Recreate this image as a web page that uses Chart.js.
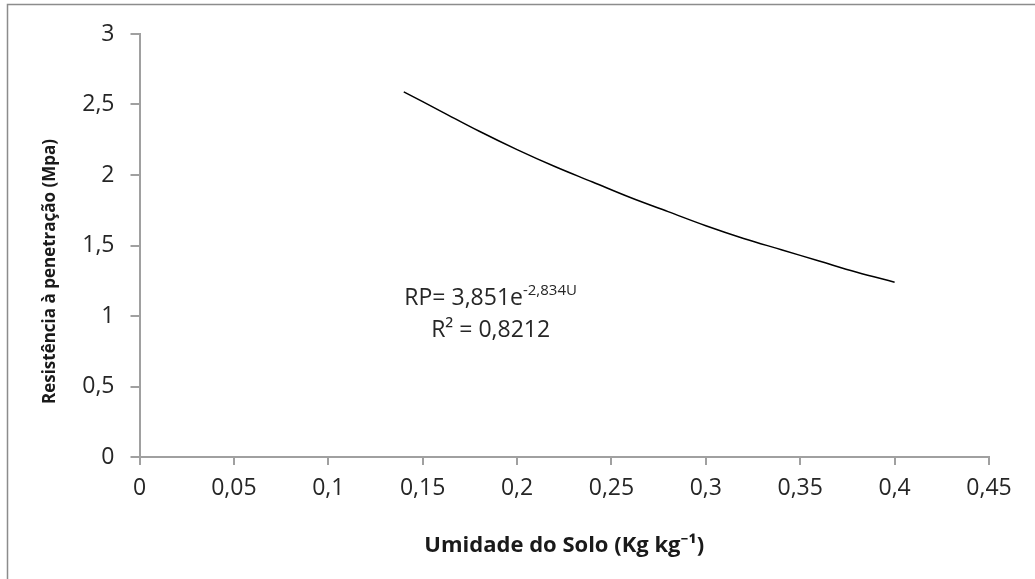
<!DOCTYPE html>
<html>
<head>
<meta charset="utf-8">
<script src="https://cdn.jsdelivr.net/npm/chart.js@4.4.1/dist/chart.umd.min.js"></script>
<style>
html, body { margin: 0; padding: 0; background: #fff; }
#wrap { width: 1035px; height: 579px; }
</style>
</head>
<body>
<div id="wrap"><canvas id="rpChart" width="1035" height="579"></canvas></div>
<script>
// valores
const umidade = [0.14, 0.16, 0.18, 0.20, 0.22, 0.24, 0.26, 0.28, 0.30, 0.32, 0.34, 0.36, 0.38, 0.40];
const resistencia = [2.59, 2.45, 2.31, 2.18, 2.06, 1.95, 1.84, 1.74, 1.64, 1.55, 1.47, 1.39, 1.31, 1.24];
const xTickLabels = ['0', '0,05', '0,1', '0,15', '0,2', '0,25', '0,3', '0,35', '0,4', '0,45'];
const yTickLabels = ['0', '0,5', '1', '1,5', '2', '2,5', '3'];

// texto da equação (ancorado em coordenadas do gráfico)
const eqMain = 'RP= 3,851e';
const eqExp = '-2,834U';
const r2Text = 'R² = 0,8212';
const eqAnchor = [0.186, 1.08];
const yTitle = 'Resistência à penetração (Mpa)';
const xTitle = 'Umidade do Solo (Kg kg⁻¹)';

const FONT = "'Open Sans', 'Noto Sans', sans-serif";
const AXIS_GRAY = '#a0a0a0';

// fundo branco + moldura externa
const framePlugin = {
    id: 'frame',
    beforeDraw(chart) {
        const ctx = chart.ctx;
        ctx.save();
        ctx.fillStyle = '#fff';
        ctx.fillRect(0, 0, chart.width, chart.height);
        ctx.strokeStyle = '#8c8c8c';
        ctx.lineWidth = 1.5;
        ctx.beginPath();
        ctx.moveTo(7.5, chart.height);
        ctx.lineTo(7.5, 4.5);
        ctx.lineTo(chart.width, 4.5);
        ctx.stroke();
        ctx.restore();
    }
};

// título do eixo Y (desenhado à mão: no original fica um pouco abaixo do centro)
const yTitlePlugin = {
    id: 'yTitle',
    afterDraw(chart) {
        const ctx = chart.ctx;
        const area = chart.chartArea;
        ctx.save();
        ctx.translate(50, (area.top + area.bottom) / 2 + 26);
        ctx.rotate(-Math.PI / 2);
        ctx.font = 'bold 17px ' + FONT;
        ctx.fillStyle = '#1a1a1a';
        ctx.textAlign = 'center';
        ctx.textBaseline = 'middle';
        ctx.fillText(yTitle, 0, 0);
        ctx.restore();
    }
};

const equationPlugin = {
    id: 'equation',
    afterDatasetsDraw(chart) {
        const ctx = chart.ctx;
        const px = chart.scales.x.getPixelForValue(eqAnchor[0]);
        const py = chart.scales.y.getPixelForValue(eqAnchor[1]);
        ctx.save();
        ctx.fillStyle = '#262626';
        ctx.textBaseline = 'alphabetic';
        ctx.textAlign = 'left';

        ctx.font = '23px ' + FONT;
        const wMain = ctx.measureText(eqMain).width;
        ctx.font = '15px ' + FONT;
        const wExp = ctx.measureText(eqExp).width;
        let start = px - (wMain + wExp) / 2;
        ctx.font = '23px ' + FONT;
        ctx.fillText(eqMain, start, py);
        ctx.font = '15px ' + FONT;
        ctx.fillText(eqExp, start + wMain, py - 10);

        ctx.font = '23px ' + FONT;
        ctx.textAlign = 'center';
        ctx.fillText(r2Text, px, py + 32);
        ctx.restore();
    }
};

const ctx = document.getElementById('rpChart');
new Chart(ctx, {
    type: 'line',
    data: {
        datasets: [{
            data: umidade.map((u, i) => ({ x: u, y: resistencia[i] })),
            borderColor: '#000',
            borderWidth: 1.5,
            pointRadius: 0,
            tension: 0.4,
            fill: false
        }]
    },
    options: {
        responsive: false,
        animation: false,
        layout: { padding: { left: 0, top: 34, right: 46, bottom: 0 } },
        plugins: {
            legend: { display: false },
            tooltip: { enabled: false }
        },
        scales: {
            x: {
                type: 'linear',
                min: 0,
                max: 0.45,
                ticks: {
                    stepSize: 0.05,
                    autoSkip: false,
                    maxRotation: 0,
                    padding: 10,
                    color: '#262626',
                    font: { family: FONT, size: 23 },
                    callback: (v, i) => xTickLabels[i]
                },
                grid: { drawOnChartArea: false, tickLength: 8, color: AXIS_GRAY, lineWidth: 2 },
                border: { color: AXIS_GRAY, width: 2 },
                title: {
                    display: true,
                    text: xTitle,
                    color: '#1a1a1a',
                    font: { family: FONT, size: 22, weight: 'bold' },
                    padding: { top: 0, bottom: 20 }
                },
                afterFit: s => { s.height = 122; }
            },
            y: {
                min: 0,
                max: 3,
                ticks: {
                    stepSize: 0.5,
                    padding: 16,
                    color: '#262626',
                    font: { family: FONT, size: 23 },
                    callback: (v, i) => yTickLabels[i]
                },
                grid: { drawOnChartArea: false, tickLength: 9, color: AXIS_GRAY, lineWidth: 2 },
                border: { color: AXIS_GRAY, width: 2 },
                title: { display: false },
                afterFit: s => { s.width = 139.5; }
            }
        }
    },
    plugins: [framePlugin, yTitlePlugin, equationPlugin]
});
</script>
</body>
</html>
